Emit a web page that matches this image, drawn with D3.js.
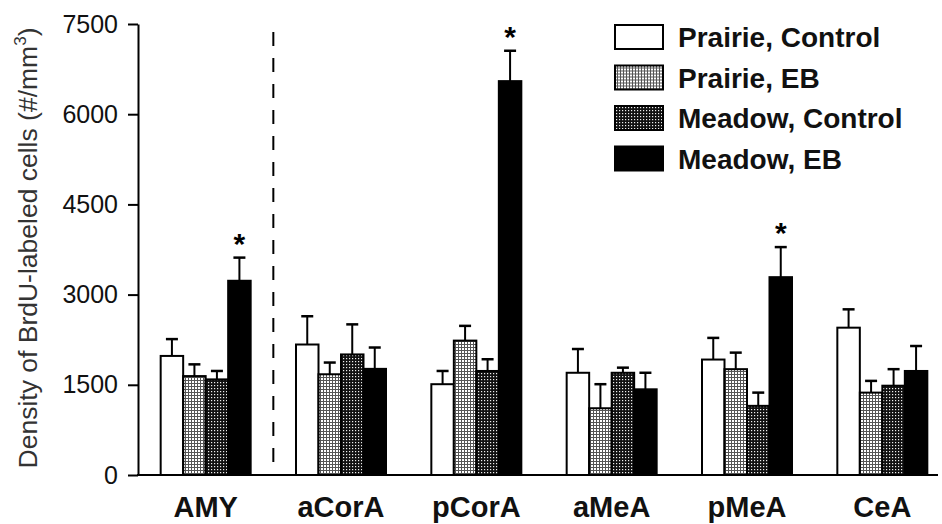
<!DOCTYPE html>
<html>
<head>
<meta charset="utf-8">
<script src="https://cdn.jsdelivr.net/npm/d3@7"></script>
<style>
    body { margin: 0; background: #fff; }
    svg { display: block; font-family: 'Liberation Sans', Arial, sans-serif; }
</style>
</head>
<body>
<svg id="chart" width="942" height="524"></svg>
<script>
const regions = ['AMY', 'aCorA', 'pCorA', 'aMeA', 'pMeA', 'CeA']
const groups = ['Prairie, Control', 'Prairie, EB', 'Meadow, Control', 'Meadow, EB']
// group means, one array per group (regions order)
const prairieControl = [1980, 2170, 1510, 1700, 1920, 2450]
const prairieEB = [1645, 1675, 2235, 1110, 1760, 1370]
const meadowControl = [1590, 2005, 1730, 1700, 1150, 1485]
const meadowEB = [3230, 1765, 6550, 1425, 3290, 1730]
// standard errors
const prairieControlErr = [280, 470, 220, 395, 360, 305]
const prairieEBErr = [195, 195, 245, 400, 275, 195]
const meadowControlErr = [140, 500, 195, 85, 220, 275]
const meadowEBErr = [385, 355, 505, 275, 500, 415]
// significance stars (Meadow, EB)
const starred = ['AMY', 'pCorA', 'pMeA']
const yTicks = [0, 1500, 3000, 4500, 6000, 7500]

const means = [prairieControl, prairieEB, meadowControl, meadowEB]
const errs = [prairieControlErr, prairieEBErr, meadowControlErr, meadowEBErr]

const svg = d3.select('#chart')
const defs = svg.append('defs')

// Prairie, EB: light grid stipple
const p1 = defs.append('pattern').attr('id', 'stippleLight')
    .attr('width', 3).attr('height', 3).attr('patternUnits', 'userSpaceOnUse')
p1.append('rect').attr('width', 3).attr('height', 3).attr('fill', '#fff')
p1.append('rect').attr('x', 2).attr('width', 1).attr('height', 3).attr('fill', '#555')
p1.append('rect').attr('y', 2).attr('width', 3).attr('height', 1).attr('fill', '#555')

// Meadow, Control: dark stipple with white dots
const p2 = defs.append('pattern').attr('id', 'stippleDark')
    .attr('width', 3).attr('height', 3).attr('patternUnits', 'userSpaceOnUse')
p2.append('rect').attr('width', 3).attr('height', 3).attr('fill', '#111')
p2.append('rect').attr('x', 1).attr('y', 1).attr('width', 1.2).attr('height', 1.2).attr('fill', '#eee')

const fills = ['#fff', 'url(#stippleLight)', 'url(#stippleDark)', '#000']

const x0 = d3.scaleBand().domain(regions).range([138, 950]).paddingInner(0.335).paddingOuter(0.1675)
const x1 = d3.scaleBand().domain(groups).range([0, x0.bandwidth()])
const y = d3.scaleLinear().domain([0, 7500]).range([475, 24])

// y axis
const yAxis = svg.append('g').attr('transform', 'translate(138,0)')
    .call(d3.axisLeft(y).tickValues(yTicks).tickFormat(d3.format('d'))
        .tickSize(10).tickSizeOuter(0).tickPadding(10))
yAxis.select('.domain').attr('stroke-width', 2)
yAxis.selectAll('.tick line').attr('stroke-width', 2)
yAxis.selectAll('.tick text').attr('font-size', 25).attr('fill', '#111')
    .attr('font-family', "'Liberation Sans', Arial, sans-serif")

// x axis line
svg.append('line').attr('x1', 137).attr('x2', 938).attr('y1', y(0)).attr('y2', y(0))
    .attr('stroke', '#000').attr('stroke-width', 2)

// dashed separator after AMY
const sepX = (x0('AMY') + x0.bandwidth() + x0('aCorA')) / 2
svg.append('line').attr('x1', sepX).attr('x2', sepX).attr('y1', 32).attr('y2', y(0))
    .attr('stroke', '#000').attr('stroke-width', 2).attr('stroke-dasharray', '14,12')

// bars
const bars = []
regions.forEach((region, ri) => {
    groups.forEach((group, gi) => {
        bars.push({ region, group, gi, value: means[gi][ri], err: errs[gi][ri] })
    })
})

const barG = svg.append('g')
// error bars drawn first so bar outline covers the stem base
barG.selectAll('line.err').data(bars).join('line').attr('class', 'err')
    .attr('x1', d => x0(d.region) + x1(d.group) + x1.bandwidth() / 2)
    .attr('x2', d => x0(d.region) + x1(d.group) + x1.bandwidth() / 2)
    .attr('y1', d => y(d.value))
    .attr('y2', d => y(d.value + d.err))
    .attr('stroke', '#000').attr('stroke-width', 2)
barG.selectAll('line.cap').data(bars).join('line').attr('class', 'cap')
    .attr('x1', d => x0(d.region) + x1(d.group) + x1.bandwidth() / 2 - 6)
    .attr('x2', d => x0(d.region) + x1(d.group) + x1.bandwidth() / 2 + 6)
    .attr('y1', d => y(d.value + d.err))
    .attr('y2', d => y(d.value + d.err))
    .attr('stroke', '#000').attr('stroke-width', 2.5)
barG.selectAll('rect').data(bars).join('rect')
    .attr('x', d => x0(d.region) + x1(d.group))
    .attr('y', d => y(d.value))
    .attr('width', x1.bandwidth())
    .attr('height', d => y(0) - y(d.value))
    .attr('fill', d => fills[d.gi])
    .attr('stroke', '#000').attr('stroke-width', 2)

// significance stars
svg.selectAll('text.star').data(bars.filter(d => d.gi == 3 && starred.includes(d.region)))
    .join('text').attr('class', 'star')
    .attr('x', d => x0(d.region) + x1(d.group) + x1.bandwidth() / 2)
    .attr('y', d => y(d.value + d.err) - 4)
    .attr('text-anchor', 'middle')
    .attr('font-size', 30).attr('font-weight', 'bold')
    .text('*')

// category labels
svg.selectAll('text.cat').data(regions).join('text').attr('class', 'cat')
    .attr('x', d => x0(d) + x0.bandwidth() / 2)
    .attr('y', 517)
    .attr('text-anchor', 'middle')
    .attr('font-size', 29).attr('font-weight', 'bold').attr('fill', '#111')
    .text(d => d)

// y axis title
const yTitle = svg.append('text')
    .attr('transform', 'translate(37,248) rotate(-90)')
    .attr('text-anchor', 'middle')
    .attr('font-size', 26.5).attr('fill', '#333')
yTitle.append('tspan').text('Density of BrdU-labeled cells (#/mm')
yTitle.append('tspan').attr('font-size', 17).attr('dy', -11).text('3')
yTitle.append('tspan').attr('dy', 11).text(')')

// legend
const legend = svg.append('g').attr('transform', 'translate(615,25)')
const items = legend.selectAll('g').data(groups).join('g')
    .attr('transform', (d, i) => `translate(0,${i * 40.5})`)
items.append('rect').attr('width', 48).attr('height', 24)
    .attr('fill', (d, i) => fills[i]).attr('stroke', '#000').attr('stroke-width', 2)
items.append('text').attr('x', 63).attr('y', 22)
    .attr('font-size', 28).attr('font-weight', 'bold').attr('fill', '#111')
    .text(d => d)
</script>
</body>
</html>
